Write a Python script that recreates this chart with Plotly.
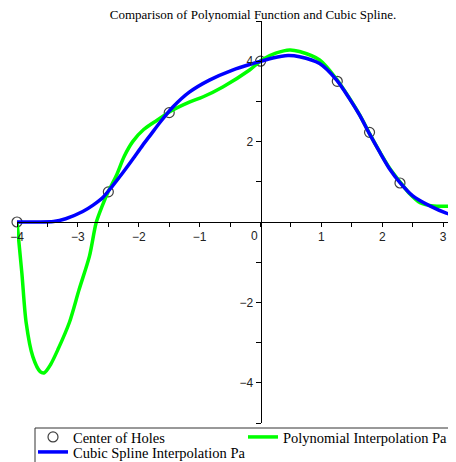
import plotly.graph_objects as go

# Center of holes
holes_x = [-4.0, -2.5, -1.5, 0.0, 1.26, 1.79, 2.29]
holes_y = [0.0, 0.75, 2.72, 4.0, 3.5, 2.23, 0.97]

# Polynomial interpolation path (green)
poly_x = [-4.0, -3.92, -3.85, -3.74, -3.62, -3.55, -3.45, -3.33, -3.14, -2.98, -2.81,
          -2.70, -2.6, -2.51, -2.37, -2.24, -2.10, -1.92, -1.70, -1.47, -1.17, -0.95,
          -0.62, -0.18, 0.04, 0.25, 0.48, 0.64, 0.97, 1.25, 1.46, 1.63, 1.79, 1.96,
          2.12, 2.29, 2.45, 2.62, 2.84, 3.21]
poly_y = [0.0, -1.27, -2.5, -3.35, -3.72, -3.75, -3.55, -3.18, -2.5, -1.68, -0.85,
          -0.02, 0.4, 0.73, 1.15, 1.63, 2.0, 2.3, 2.53, 2.76, 2.98, 3.11,
          3.36, 3.78, 4.05, 4.2, 4.28, 4.24, 4.03, 3.55, 3.08, 2.66, 2.2, 1.74,
          1.34, 1.0, 0.7, 0.48, 0.4, 0.4]

# Cubic spline interpolation path (blue)
spline_x = [-4.0, -3.7, -3.4, -3.2, -2.92, -2.75, -2.59, -2.43, -2.26, -2.1, -1.94,
            -1.8, -1.64, -1.44, -1.17, -0.84, -0.46, -0.13, 0.2, 0.45, 0.64, 0.97,
            1.25, 1.46, 1.63, 1.79, 1.96, 2.12, 2.29, 2.5, 2.78, 3.05, 3.21]
spline_y = [0.0, 0.0, 0.01, 0.08, 0.26, 0.42, 0.61, 0.9, 1.23, 1.56, 1.9,
            2.18, 2.5, 2.86, 3.23, 3.53, 3.78, 3.94, 4.08, 4.14, 4.11, 3.94,
            3.53, 3.07, 2.65, 2.19, 1.73, 1.32, 0.98, 0.65, 0.4, 0.22, 0.15]

x_ticks = [-4, -3, -2, -1, 1, 2, 3]
y_ticks = [-4, -2, 2, 4]
origin_label = "0"

x_range = [-4.0, 3.21]
y_range = [-5.0, 5.0]

W, H = 480, 462
L, R, T, B = 9, 32, 13, 47
PW, PH = W - L - R, H - T - B


def px_x(fx):
    return (fx - L) / PW


def px_y(fy):
    return (H - B - fy) / PH


fig = go.Figure()
fig.add_trace(go.Scatter(x=holes_x, y=holes_y, mode="markers", name="Center of Holes",
                         marker=dict(symbol="circle-open", size=10, color="#404040",
                                     line=dict(width=1.2)),
                         cliponaxis=False, legend="legend"))
fig.add_trace(go.Scatter(x=poly_x, y=poly_y, mode="lines", name="Polynomial Interpolation Pa",
                         line=dict(color="#00ff00", width=3.5, shape="spline", smoothing=0.8),
                         legend="legend"))
fig.add_trace(go.Scatter(x=spline_x, y=spline_y, mode="lines", name="Cubic Spline Interpolation Pa",
                         line=dict(color="#0000ff", width=3.5, shape="spline", smoothing=0.8),
                         legend="legend2"))

y_axis_pos = (0 - x_range[0]) / (x_range[1] - x_range[0])
x_axis_pos = (0 - y_range[0]) / (y_range[1] - y_range[0])

tickfont = dict(family="Liberation Sans", size=12, color="#222222")
legfont = dict(family="Liberation Serif", size=14.5, color="black")

fig.add_annotation(x=0, y=0, xref="x", yref="y", text=origin_label, showarrow=False,
                   xanchor="center", yanchor="middle", xshift=-6, yshift=-14,
                   font=tickfont)

# legend frame
fig.add_shape(type="rect", xref="paper", yref="paper",
              x0=px_x(27), x1=px_x(W + 40), y0=px_y(420), y1=px_y(H + 30),
              line=dict(color="#333333", width=1), fillcolor="white", layer="below")

fig.update_layout(
    width=W, height=H,
    margin=dict(l=L, r=R, t=T, b=B, pad=0, autoexpand=False),
    paper_bgcolor="white", plot_bgcolor="rgba(0,0,0,0)",
    title=dict(text="Comparison of Polynomial Function and Cubic Spline.",
               x=245 / W, xanchor="center", xref="container", y=1 - 2 / H, yanchor="top",
               yref="container", pad=dict(t=0, b=0),
               font=dict(family="Liberation Serif", size=13, color="black")),
    xaxis=dict(range=x_range, anchor="free", position=x_axis_pos,
               showgrid=False, zeroline=False, showline=True, linecolor="black", linewidth=1,
               tickmode="array", tickvals=x_ticks, ticks="outside", ticklen=4, tickcolor="black",
               tickfont=tickfont,
               minor=dict(dtick=0.5, tick0=0, ticks="outside", ticklen=4, tickcolor="black",
                          showgrid=False)),
    yaxis=dict(range=y_range, anchor="free", position=y_axis_pos,
               showgrid=False, zeroline=False, showline=True, linecolor="black", linewidth=1,
               tickmode="array", tickvals=y_ticks, ticks="outside", ticklen=5, tickcolor="black",
               tickfont=tickfont,
               minor=dict(dtick=1, tick0=0, ticks="outside", ticklen=5, tickcolor="black",
                          showgrid=False)),
    legend=dict(orientation="h", x=px_x(25), xanchor="left",
                y=px_y(413), yanchor="top", font=legfont,
                bgcolor="rgba(0,0,0,0)", borderwidth=0,
                entrywidth=165, entrywidthmode="pixels", tracegroupgap=0),
    legend2=dict(orientation="h", x=px_x(25), xanchor="left",
                 y=px_y(428), yanchor="top", font=legfont,
                 bgcolor="rgba(0,0,0,0)", borderwidth=0,
                 entrywidth=220, entrywidthmode="pixels", tracegroupgap=0),
    showlegend=True,
)

fig.write_html("out.html")
